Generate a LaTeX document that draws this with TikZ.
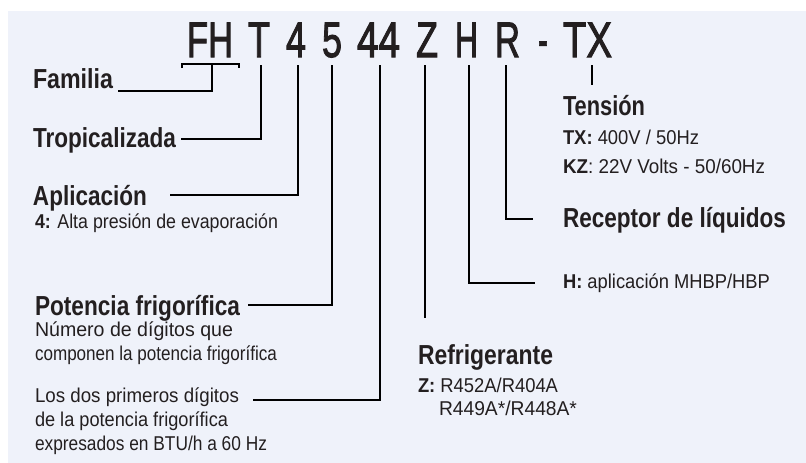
\documentclass[tikz,border=0pt]{standalone}
\usepackage{fontspec}
\setmainfont{Liberation Sans}
\newfontfamily\titlefont[FakeBold=2.2]{Liberation Sans}
\usepackage{graphicx}
\definecolor{bg}{RGB}{239,242,250}
\definecolor{ink}{RGB}{35,31,32}
\newcommand{\fw}[2]{\resizebox{#1pt}{\height}{#2}}
\newcommand{\ttl}{\titlefont\fontsize{50}{56}\selectfont}
\newcommand{\hdg}{\fontsize{27.5}{30}\selectfont\bfseries}
\newcommand{\txt}{\fontsize{20}{22}\selectfont}
\tikzset{
  lbl/.style={anchor=base west, inner sep=0pt, outer sep=0pt, text=ink},
  conn/.style={draw=black, line width=2.2pt, line join=miter},
  tick/.style={draw=black, line width=2pt}
}
\begin{document}
\begin{tikzpicture}[x=1pt,y=-1pt]
\useasboundingbox (0,0) rectangle (806,463);
\fill[bg] (8,11) rectangle (806,463);

% title code
\node[lbl] (tFH) at (187,57) {\fw{46}{\ttl FH}};
\node[lbl] (tT)  at (248,57) {\fw{22}{\ttl T}};
\node[lbl] (t4)  at (286,57) {\fw{20}{\ttl 4}};
\node[lbl] (t5)  at (322,57) {\fw{20}{\ttl 5}};
\node[lbl] (t44) at (357,57) {\fw{43}{\ttl 44}};
\node[lbl] (tZ)  at (416,57) {\fw{22}{\ttl Z}};
\node[lbl] (tH)  at (455,57) {\fw{23}{\ttl H}};
\node[lbl] (tR)  at (495,57) {\fw{25}{\ttl R}};
\node[lbl] (tD)  at (538,57) {\fw{10}{\ttl -}};
\node[lbl] (tTX) at (563,57) {\fw{49}{\ttl TX}};

% labels, left column
\node[lbl] (fam)  at (33,88)  {\fw{80}{\hdg Familia}};
\node[lbl] (trop) at (33,147) {\fw{143}{\hdg Tropicalizada}};
\node[lbl] (apl)  at (33,205) {\fw{114}{\hdg Aplicación}};
\node[lbl] (apl1) at (35,228) {\fw{243}{\txt\textbf{4:} Alta presión de evaporación}};
\node[lbl] (pot)  at (35,315) {\fw{205}{\hdg Potencia frigorífica}};
\node[lbl] (pot1) at (35,336) {\fw{198}{\txt Número de dígitos que}};
\node[lbl] (pot2) at (35,360) {\fw{242}{\txt componen la potencia frigorífica}};
\node[lbl] (dig1) at (35,402) {\fw{204}{\txt Los dos primeros dígitos}};
\node[lbl] (dig2) at (35,426) {\fw{193}{\txt de la potencia frigorífica}};
\node[lbl] (dig3) at (35,450) {\fw{232}{\txt expresados en BTU/h a 60 Hz}};

% labels, right column
\node[lbl] (ten)  at (563,115) {\fw{82}{\hdg Tensión}};
\node[lbl] (ten1) at (563,144) {\fw{136}{\txt\textbf{TX:} 400V / 50Hz}};
\node[lbl] (ten2) at (563,173) {\fw{202}{\txt\textbf{KZ}: 22V Volts - 50/60Hz}};
\node[lbl] (rec)  at (563,227) {\fw{223}{\hdg Receptor de líquidos}};
\node[lbl] (hap)  at (563,288) {\fw{207}{\txt\textbf{H:} aplicación MHBP/HBP}};
\node[lbl] (ref)  at (418,364) {\fw{135}{\hdg Refrigerante}};
\node[lbl] (ref1) at (418,392) {\fw{140}{\txt\textbf{Z:} R452A/R404A}};
\node[lbl] (ref2) at (439,415) {\fw{138}{\txt R449A*/R448A*}};

% connector ends
\coordinate (bL) at (182,68);
\coordinate (bR) at (239,68);
\coordinate (bC) at (212,64);
\coordinate (eFam) at (118,91);
\coordinate (kT) at (261,65);   \coordinate (eT) at (181,139);
\coordinate (k4) at (298,65);   \coordinate (e4) at (170,195);
\coordinate (k5) at (332,65);   \coordinate (e5) at (248,305);
\coordinate (k44) at (380,65);  \coordinate (e44) at (253,400);
\coordinate (kZ) at (425,65);   \coordinate (eZ) at (425,318);
\coordinate (kH) at (469,65);   \coordinate (eH) at (535,283);
\coordinate (kR) at (506,65);   \coordinate (eR) at (533,219);
\coordinate (kTX) at (592,65);  \coordinate (eTX) at (592,85);

\draw[conn] (bL) |- (bR |- bC) -- (bR);
\draw[conn] (bC) |- (eFam);
\draw[conn] (kT) |- (eT);
\draw[conn] (k4) |- (e4);
\draw[conn] (k5) |- (e5);
\draw[conn] (k44) |- (e44);
\draw[conn] (kZ) -- (eZ);
\draw[conn] (kH) |- (eH);
\draw[conn] (kR) |- (eR);
\draw[tick] (kTX) -- (eTX);
\end{tikzpicture}
\end{document}
